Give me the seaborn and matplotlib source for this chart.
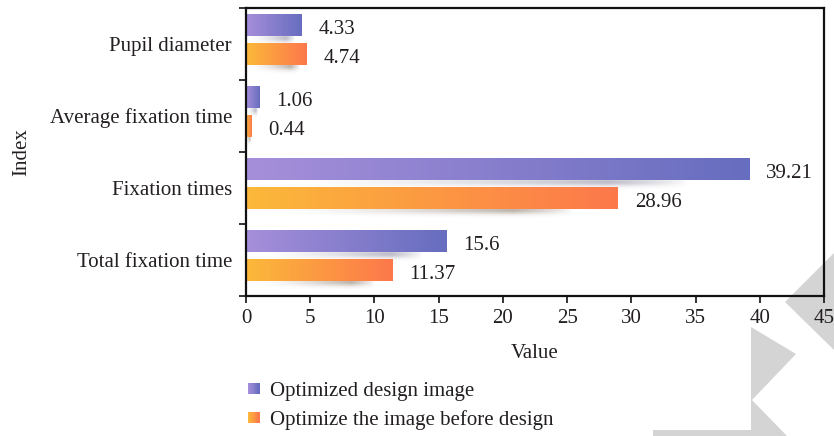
import numpy as np
import pandas as pd
import seaborn as sns
import matplotlib
matplotlib.use("Agg")
import matplotlib.pyplot as plt
from matplotlib.colors import LinearSegmentedColormap, to_rgb
from matplotlib.patches import Rectangle, Polygon
from matplotlib.legend_handler import HandlerBase

# ---- data ----
categories = ["Pupil diameter", "Average fixation time", "Fixation times", "Total fixation time"]
series_names = ["Optimized design image", "Optimize the image before design"]
optimized_values = [4.33, 1.06, 39.21, 15.6]
before_values = [4.74, 0.44, 28.96, 11.37]
x_ticks = [0, 5, 10, 15, 20, 25, 30, 35, 40, 45]

# ---- style ----
sns.set_style("ticks")
plt.rcParams["font.family"] = ["Liberation Serif", "DejaVu Serif"]
FS = 15
plt.rcParams["font.size"] = FS
TEXT = "#231f20"

grad_colors = {
    series_names[0]: ("#a68fda", "#676dbf"),
    series_names[1]: ("#fbb93a", "#fd784b"),
}
shadow_colors = {
    series_names[0]: "#6f6a86",
    series_names[1]: "#6b5745",
}

df = pd.DataFrame({
    "Index": categories * 2,
    "Value": optimized_values + before_values,
    "Series": [series_names[0]] * len(categories) + [series_names[1]] * len(categories),
})

fig = plt.figure(figsize=(8.34, 4.36), dpi=100)
fig.patch.set_facecolor("white")

# light grey corner emblem behind the axes
W, H = 834.0, 436.0
def fig_pts(pts):
    return [(x / W, 1 - y / H) for x, y in pts]
emblem_a = [(785, 302), (834, 253), (840, 253), (840, 354), (834, 350)]
emblem_b = [(751, 327), (796, 354), (752, 400), (788, 437), (653, 437), (653, 430), (751, 430)]
for poly in (emblem_a, emblem_b):
    fig.patches.append(Polygon(fig_pts(poly), closed=True, transform=fig.transFigure,
                               facecolor="#d4d4d4", edgecolor="none", zorder=-5))

ax = fig.add_axes([246 / W, 1 - 296 / H, (824 - 246) / W, (296 - 8) / H])
ax.set_facecolor("none")

sns.barplot(data=df, y="Index", x="Value", hue="Series", orient="h",
            order=categories, hue_order=series_names, width=0.8, gap=0.25,
            palette=[grad_colors[s][0] for s in series_names], legend=False, ax=ax)

# replace flat fills by left-to-right gradients and add soft drop shadows
values_by_series = [optimized_values, before_values]
bars = list(ax.patches)
for i, bar in enumerate(bars):
    s_idx = i // len(categories)
    name = series_names[s_idx]
    x0 = bar.get_x()
    w = bar.get_width()
    y0 = bar.get_y()
    h = bar.get_height()
    cmap = LinearSegmentedColormap.from_list(f"g{i}", grad_colors[name])
    grad = np.linspace(0, 1, 256).reshape(1, -1)
    im = ax.imshow(grad, cmap=cmap, aspect="auto", extent=(x0, x0 + w, y0, y0 + h),
                   zorder=3, interpolation="bicubic")
    im.set_clip_path(bar)
    bar.set_facecolor("none")
    bar.set_edgecolor("none")
    bar.set_zorder(3)

    # shadow below the bar (bar bottom edge is y0 + h because y is inverted)
    sx0 = x0 + 0.08 * w
    sx1 = x0 + 0.88 * w
    nx, ny = 200, 40
    xs = np.linspace(0, 1, nx)
    horiz = np.clip(xs / 0.8, 0, 1) ** 1.4 * np.clip((1 - xs) / 0.2, 0, 1) ** 0.8
    ys = np.linspace(0, 1, ny)
    vert = np.exp(-((ys - 0.3) / 0.32) ** 2)
    alpha = 0.45 * np.outer(vert, horiz)
    rgba = np.zeros((ny, nx, 4))
    rgba[..., :3] = to_rgb(shadow_colors[name])
    rgba[..., 3] = alpha
    ax.imshow(rgba, aspect="auto", extent=(sx0, sx1, y0 + h + 0.15, y0 + h - 0.03),
              origin="upper", zorder=2, interpolation="bilinear")

    val = values_by_series[s_idx][i % len(categories)]
    ax.annotate(f"{val:g}", xy=(x0 + w, y0 + h / 2), xytext=(12, -3),
                textcoords="offset points", ha="left", va="center",
                fontsize=FS, color=TEXT, zorder=5)

# axes, ticks, labels
shift = 0.0625
ax.set_xlim(0, 45)
ax.set_ylim(len(categories) - 0.5 + shift, -0.5 + shift)
ax.set_xticks(x_ticks)
ax.set_xticklabels([str(t) for t in x_ticks])
ax.set_yticks([k + shift for k in range(len(categories))])
ax.set_yticklabels(categories)
ax.set_yticks([k - 0.5 + shift for k in range(len(categories) + 1)], minor=True)
ax.tick_params(axis="y", which="major", length=0, pad=10, labelsize=FS, labelcolor=TEXT)
ax.tick_params(axis="y", which="minor", length=5, width=1.2, direction="out", color="#111")
ax.tick_params(axis="x", which="major", length=5, width=1.2, direction="out", color="#111",
               pad=4, labelsize=FS, labelcolor=TEXT)
for sp in ax.spines.values():
    sp.set_visible(True)
    sp.set_linewidth(1.6)
    sp.set_color("#111")
    sp.set_zorder(6)
ax.set_xlabel("Value", fontsize=FS, color=TEXT, labelpad=12)
ax.set_ylabel("Index", fontsize=FS, color=TEXT, labelpad=13)


class GradientSquare(HandlerBase):
    def __init__(self, c0, c1, **kw):
        super().__init__(**kw)
        self.c0, self.c1 = np.array(to_rgb(c0)), np.array(to_rgb(c1))

    def create_artists(self, legend, orig_handle, xdescent, ydescent, width, height,
                       fontsize, trans):
        n = 10
        arts = []
        for k in range(n):
            t = k / (n - 1)
            c = (1 - t) * self.c0 + t * self.c1
            arts.append(Rectangle((-xdescent + k * width / n, -ydescent), width / n + 0.3,
                                  height, facecolor=c, edgecolor="none", transform=trans))
        return arts


handles = [Rectangle((0, 0), 1, 1) for _ in series_names]
handler_map = {h: GradientSquare(*grad_colors[s]) for h, s in zip(handles, series_names)}
fig.legend(handles, series_names, handler_map=handler_map, loc="upper left",
           bbox_to_anchor=(248 / W, 1 - 382 / H), frameon=False, borderpad=0,
           borderaxespad=0, handlelength=0.55, handleheight=0.45, handletextpad=0.5,
           labelspacing=0.45, fontsize=FS, labelcolor=TEXT)

fig.savefig("out.png", dpi=100)
